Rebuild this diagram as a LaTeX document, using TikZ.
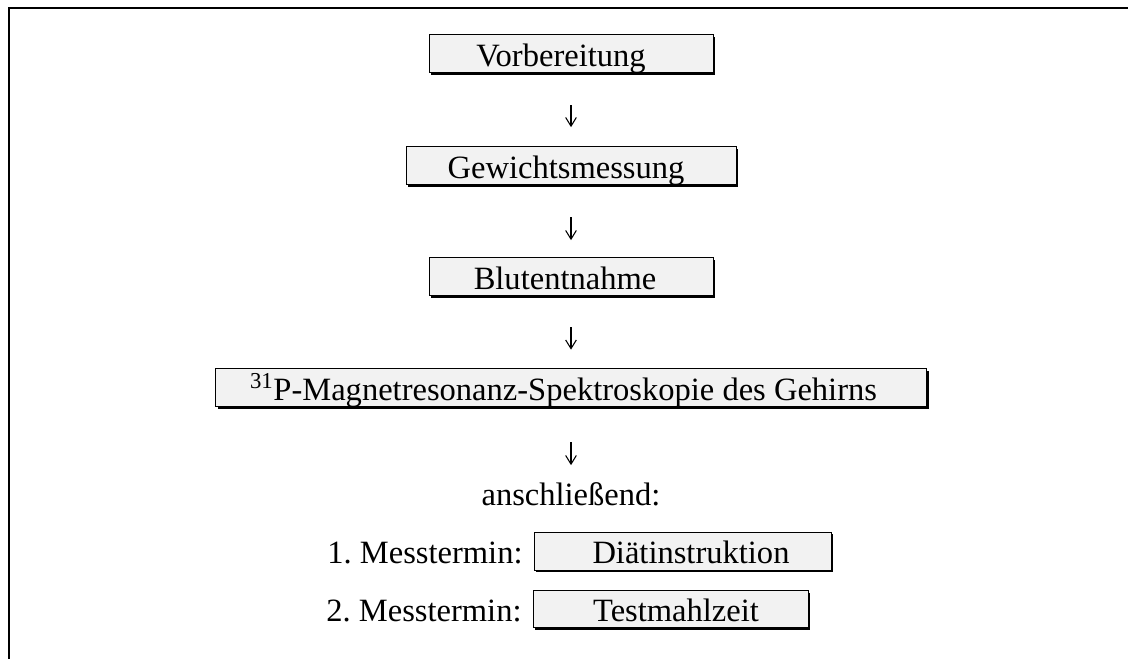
\documentclass[tikz,border=0pt]{standalone}
\usepackage{fontspec}
\setmainfont{Liberation Serif}
\usetikzlibrary{arrows.meta,shadows}
\frenchspacing
\tikzset{
  txt/.style={font=\fontsize{24.4pt}{28pt}\selectfont},
  stepbox/.style={txt, draw=black, line width=0.75pt, fill=black!5, inner sep=0pt,
    minimum height=28.5pt, text height=19pt, text depth=0pt,
    drop shadow={shadow xshift=1.6pt, shadow yshift=-1.6pt, fill=black, opacity=1}},
  lbl/.style={txt, inner sep=0pt},
  flow/.style={line width=0.8pt, -{Straight Barb[length=6.5pt,width=8pt]}},
  frame/.style={line width=1.9pt}
}
\begin{document}
\begin{tikzpicture}[x=0.75pt,y=-0.75pt]
\useasboundingbox (0,0) rectangle (1128,659);
\coordinate (ftr) at (1128,8);
\coordinate (ftl) at (9,8);
\coordinate (fbl) at (9,659);
\draw[frame] (ftr) -- (ftl) -- (fbl);

\node[stepbox, minimum width=213pt] (V) at (571,54) {Vorbereitung\kern15pt};
\node[stepbox, minimum width=247.5pt] (G) at (571,166) {Gewichtsmessung\kern7.5pt};
\node[stepbox, minimum width=213pt] (B) at (571,277) {Blutentnahme\kern9pt};
\node[stepbox, minimum width=533.25pt] (M) at (571,387.5) {\textsuperscript{31}P-Magnetresonanz-Spektroskopie des Gehirns\kern11.25pt};
\node[lbl, anchor=base] (A) at (571,505) {anschließend:};
\node[stepbox, minimum width=222.75pt] (D) at (682.5,551) {\kern12.75ptDiätinstruktion};
\node[stepbox, minimum width=206.25pt, minimum height=27.75pt] (T) at (670.5,609) {\kern8.25ptTestmahlzeit};
\node[lbl, anchor=base east] (L1) at ([xshift=-8pt]D.base west) {1. Messtermin:};
\node[lbl, anchor=base east] (L2) at ([xshift=-8pt]T.base west) {2. Messtermin:};

\draw[flow, shorten <=24pt, shorten >=14.5pt] (V) -- (G);
\draw[flow, shorten <=24pt, shorten >=13pt] (G) -- (B);
\draw[flow, shorten <=23.25pt, shorten >=13.75pt] (B) -- (M);
\draw[flow, shorten <=26.25pt, shorten >=12.5pt] (M) -- (A);
\end{tikzpicture}
\end{document}
